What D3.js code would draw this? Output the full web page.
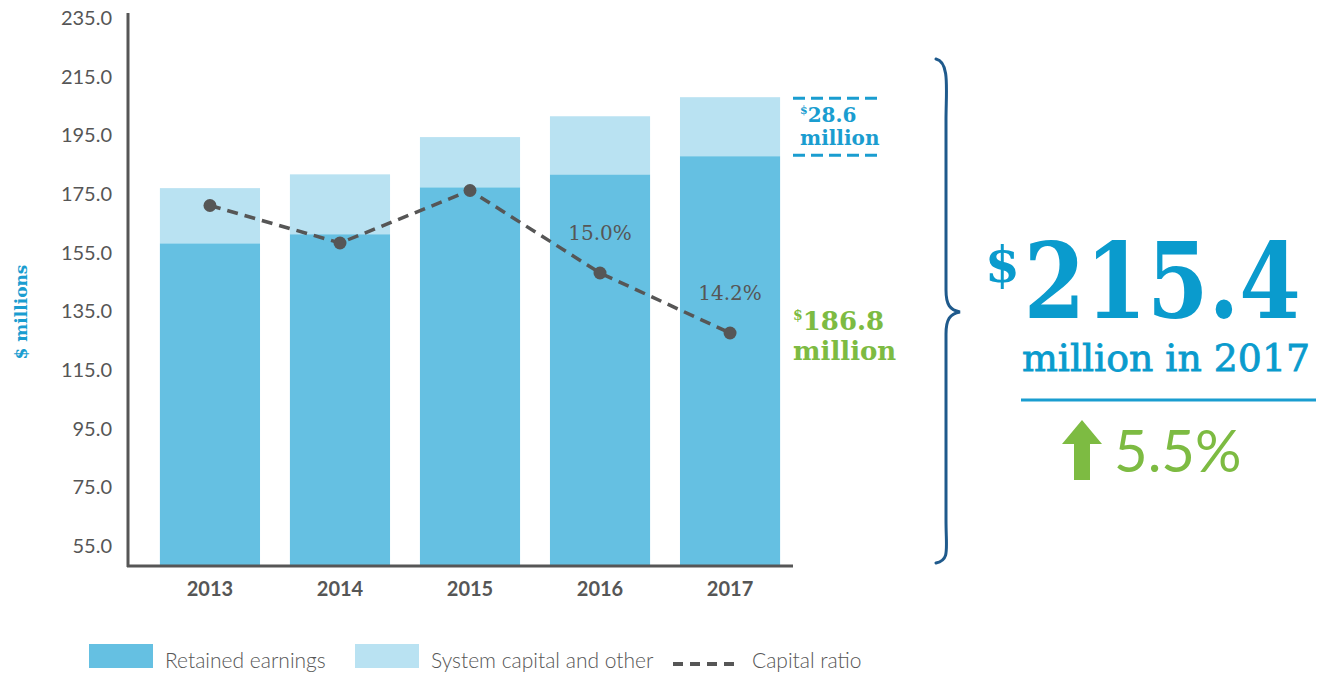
<!DOCTYPE html>
<html>
<head>
<meta charset="utf-8">
<script src="https://cdn.jsdelivr.net/npm/d3@7"></script>
<style>
  body { margin: 0; background: #fff; }
  svg { display: block; }
</style>
</head>
<body>
<svg id="chart" width="1322" height="675"></svg>
<script>
// values
const years = ["2013", "2014", "2015", "2016", "2017"]
const retained = [158.2, 161.3, 177.3, 181.7, 187.9]
const systemCapital = [18.8, 20.4, 17.1, 19.8, 20.1]
const capitalRatio = [15.9, 15.4, 16.1, 15.0, 14.2]
const ratioLabels = ["", "", "", "15.0%", "14.2%"]
const yTicks = [55, 75, 95, 115, 135, 155, 175, 195, 215, 235]

const darkBlue = "#65c0e2", lightBlue = "#b9e2f2", grey = "#565656"
const textBlue = "#1a9dd0", green = "#7dbb42"
const sans = "Lato, 'Open Sans', sans-serif"
const serif = "'DejaVu Serif', serif"

const svg = d3.select("#chart")

let x = d3.scaleBand().domain(years).range([130, 810]).paddingInner(0.23).paddingOuter(0.23)
let y = d3.scaleLinear().domain([55, 235]).range([546, 18])
let yRatio = d3.scaleLinear().domain([14.2, 15.0]).range([333, 273])

// stacked bars
let rows = years.map((yr, i) => ({year: yr, retained: retained[i], system: systemCapital[i]}))
let series = d3.stack().keys(["retained", "system"])(rows)
let baseY = 566

svg.append("g").selectAll("g")
    .data(series)
    .join("g")
    .attr("fill", d => d.key === "retained" ? darkBlue : lightBlue)
    .selectAll("rect")
    .data(d => d)
    .join("rect")
    .attr("x", d => x(d.data.year))
    .attr("width", x.bandwidth())
    .attr("y", d => y(d[1]))
    .attr("height", d => (d[0] === 0 ? baseY : y(d[0])) - y(d[1]))

// axes
let yAxis = svg.append("g")
    .attr("transform", "translate(128,0)")
    .call(d3.axisLeft(y).tickValues(yTicks).tickFormat(d3.format(".1f")).tickSize(0).tickPadding(16))
yAxis.select(".domain").remove()
yAxis.selectAll("text")
    .attr("font-family", sans).attr("font-size", 20).attr("fill", grey)

svg.append("line").attr("x1", 128).attr("x2", 128).attr("y1", 13).attr("y2", 567)
    .attr("stroke", grey).attr("stroke-width", 3)
svg.append("line").attr("x1", 127).attr("x2", 793).attr("y1", 566).attr("y2", 566)
    .attr("stroke", grey).attr("stroke-width", 3)

let xAxis = svg.append("g")
    .attr("transform", "translate(0," + baseY + ")")
    .call(d3.axisBottom(x).tickSize(0).tickPadding(16))
xAxis.select(".domain").remove()
xAxis.selectAll("text")
    .attr("font-family", sans).attr("font-size", 20).attr("font-weight", "bold").attr("fill", grey)

svg.append("text")
    .attr("transform", "translate(27,312) rotate(-90)")
    .attr("text-anchor", "middle")
    .attr("font-family", serif).attr("font-weight", "bold").attr("font-size", 17)
    .attr("fill", textBlue)
    .text("$ millions")

// capital ratio line
let line = d3.line()
    .x((d, i) => x(years[i]) + x.bandwidth() / 2)
    .y(d => yRatio(d))
svg.append("path")
    .datum(capitalRatio)
    .attr("d", line)
    .attr("fill", "none").attr("stroke", grey).attr("stroke-width", 3.5)
    .attr("stroke-dasharray", "11,7")
svg.append("g").selectAll("circle")
    .data(capitalRatio)
    .join("circle")
    .attr("cx", (d, i) => x(years[i]) + x.bandwidth() / 2)
    .attr("cy", d => yRatio(d))
    .attr("r", 6.5)
    .attr("fill", grey)
svg.append("g").selectAll("text")
    .data(capitalRatio)
    .join("text")
    .attr("x", (d, i) => x(years[i]) + x.bandwidth() / 2)
    .attr("y", d => yRatio(d) - 33)
    .attr("text-anchor", "middle")
    .attr("font-family", serif).attr("font-size", 20).attr("fill", grey)
    .text((d, i) => ratioLabels[i])

// $28.6 million bracket
let last = rows[rows.length - 1]
let topY = y(last.retained + last.system), midY = y(last.retained)
;[topY + 1, midY - 1].forEach(yy => {
    svg.append("line").attr("x1", 793).attr("x2", 878).attr("y1", yy).attr("y2", yy)
        .attr("stroke", textBlue).attr("stroke-width", 3).attr("stroke-dasharray", "12,6")
})
let t1 = svg.append("text").attr("x", 800).attr("y", 122)
    .attr("font-family", serif).attr("font-weight", "bold").attr("font-size", 20).attr("fill", textBlue)
t1.append("tspan").attr("font-size", 11).attr("dy", -8).text("$")
t1.append("tspan").attr("dy", 8).text("28.6")
svg.append("text").attr("x", 800).attr("y", 145)
    .attr("font-family", serif).attr("font-weight", "bold").attr("font-size", 20).attr("fill", textBlue)
    .text("million")

// $186.8 million
let t2 = svg.append("text").attr("x", 793).attr("y", 330)
    .attr("font-family", serif).attr("font-weight", "bold").attr("font-size", 26).attr("fill", green)
t2.append("tspan").attr("font-size", 14).attr("dy", -10).text("$")
t2.append("tspan").attr("dy", 10).text("186.8")
svg.append("text").attr("x", 793).attr("y", 360)
    .attr("font-family", serif).attr("font-weight", "bold").attr("font-size", 26).attr("fill", green)
    .text("million")

// brace
svg.append("path")
    .attr("d", "M936,59 C950,62 946,90 946,120 L946,290 C946,305 950,310 960,312 C950,314 946,319 946,334 L946,520 C946,550 950,560 936,563")
    .attr("fill", "none").attr("stroke", "#1f5a8c").attr("stroke-width", 3).attr("stroke-linecap", "round")

// big callout
let big = svg.append("text").attr("x", 985).attr("y", 318)
    .attr("font-family", serif).attr("font-weight", "bold").attr("fill", "#0a9bcd")
big.append("tspan").attr("font-size", 50).attr("dy", -36).text("$")
big.append("tspan").attr("font-size", 104).attr("dy", 36).attr("dx", 4)
    .attr("textLength", 277).attr("lengthAdjust", "spacingAndGlyphs").text("215.4")
svg.append("text").attr("x", 1022).attr("y", 371)
    .attr("font-family", serif).attr("font-size", 37).attr("fill", "#0a9bcd")
    .attr("stroke", "#0a9bcd").attr("stroke-width", 0.8)
    .attr("textLength", 288).attr("lengthAdjust", "spacingAndGlyphs")
    .text("million in 2017")
svg.append("line").attr("x1", 1021).attr("x2", 1316).attr("y1", 400).attr("y2", 400)
    .attr("stroke", textBlue).attr("stroke-width", 3)
svg.append("path")
    .attr("d", "M1082,420 L1102,444 L1090,444 L1090,480 L1074,480 L1074,444 L1062,444 Z")
    .attr("fill", green)
svg.append("text").attr("x", 1114).attr("y", 472)
    .attr("font-family", sans).attr("font-size", 58).attr("fill", green)
    .text("5.5%")

// legend
let legend = [
    {label: "Retained earnings", color: darkBlue, x: 89, type: "rect"},
    {label: "System capital and other", color: lightBlue, x: 355, type: "rect"},
    {label: "Capital ratio", color: grey, x: 673, type: "line"}
]
let lg = svg.append("g").selectAll("g").data(legend).join("g")
lg.filter(d => d.type === "rect").append("rect")
    .attr("x", d => d.x).attr("y", 644).attr("width", 64).attr("height", 24)
    .attr("fill", d => d.color)
lg.filter(d => d.type === "line").append("line")
    .attr("x1", d => d.x).attr("x2", d => d.x + 64).attr("y1", 664).attr("y2", 664)
    .attr("stroke", d => d.color).attr("stroke-width", 4).attr("stroke-dasharray", "10,7")
lg.append("text")
    .attr("x", d => d.x + (d.type === "rect" ? 76 : 79)).attr("y", 668)
    .attr("font-family", sans).attr("font-weight", 300).attr("font-size", 21).attr("fill", grey)
    .text(d => d.label)
</script>
</body>
</html>
